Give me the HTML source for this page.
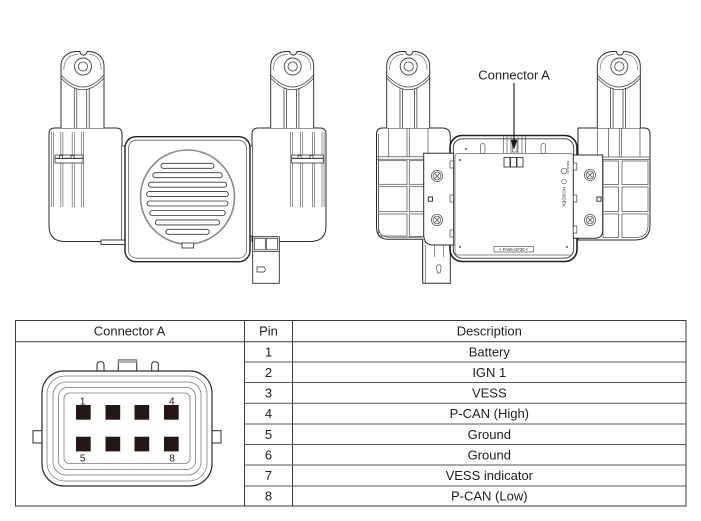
<!DOCTYPE html>
<html><head><meta charset="utf-8"><style>
html,body{margin:0;padding:0;background:#fff;width:701px;height:521px;overflow:hidden;}
svg{display:block;}
text{font-family:"Liberation Sans",Arial,sans-serif;fill:#1e1e1e;}
</style></head><body>
<svg width="701" height="521" viewBox="0 0 701 521" xmlns="http://www.w3.org/2000/svg">
<rect x="0" y="0" width="701" height="521" fill="#fff"/>

<!-- ================= LEFT DEVICE ================= -->
<g stroke="#2a2a2a" stroke-width="1" fill="#fff">
  <path d="M49,134 Q49,128 55,128 H116 Q122,128 122,134 V241.5 H65 Q49,241.5 49,225.5 Z"/>
  <path d="M252,134 Q252,128 258,128 H320 Q326,128 326,134 V226 Q326,241.5 310,241.5 H252 Z"/>
  <rect x="101" y="240" width="24" height="4.5" stroke-width="0.9"/>
  <rect x="121.7" y="146" width="3.3" height="94" stroke-width="0.7"/>
  <rect x="250" y="146" width="2.7" height="90" stroke-width="0.7"/>
</g>
<g stroke="#666" stroke-width="0.7" fill="none">
  <path d="M51.5,132 V207 M53.6,132 V207 M60.8,132 V207 M62.9,132 V207 M72.2,132 V207 M74.3,132 V207 M81.3,132 V207 M83.4,132 V207"/>
  <path d="M290.6,132 V207 M292.7,132 V207 M300.6,132 V207 M302.7,132 V207 M312.4,132 V207 M314.5,132 V207 M322,132 V207 M324.1,132 V207"/>
</g>
<g stroke="#333" stroke-width="0.8" fill="#fff">
  <rect x="55" y="155" width="28" height="3.2"/>
  <rect x="55" y="158.5" width="28" height="4.5"/>
  <rect x="59.5" y="155.5" width="3" height="3"/>
  <rect x="71" y="155.5" width="3" height="3"/>
  <rect x="291.7" y="155" width="31.6" height="3.2"/>
  <rect x="291.7" y="158.5" width="31.6" height="4.5"/>
  <rect x="298" y="155.5" width="3" height="3"/>
  <rect x="310" y="155.5" width="3" height="3"/>
</g>

<!-- arms left device -->
<g transform="translate(0,0)">
 <path d="M61,128 V66 C61,57 68,51.5 77,51.5 H80 A3.6,3.6 0 0 0 87.2,51.5 H88 C97,51.5 104,57 104,66 V128" fill="#fff" stroke="#2a2a2a" stroke-width="0.95"/>
 <path d="M63.8,70 C63.8,60 69,54.5 78,54.5 M89,54.5 C97,54.5 101.2,60 101.2,70" fill="none" stroke="#777" stroke-width="0.7"/>
 <circle cx="83" cy="66.5" r="8.5" fill="none" stroke="#444" stroke-width="0.9"/>
 <circle cx="83" cy="66.5" r="4.6" fill="none" stroke="#555" stroke-width="0.9"/>
 <path d="M61,75 Q83,99 104,75 M61,78 Q83,101.5 104,78" fill="none" stroke="#444" stroke-width="0.8"/>
 <path d="M74.3,88 V128 M76.8,89 V128 M86.7,89 V128 M89.2,88 V128" stroke="#444" stroke-width="0.8"/>
</g>
<g transform="translate(209.7,0)">
 <path d="M61,128 V66 C61,57 68,51.5 77,51.5 H80 A3.6,3.6 0 0 0 87.2,51.5 H88 C97,51.5 104,57 104,66 V128" fill="#fff" stroke="#2a2a2a" stroke-width="0.95"/>
 <path d="M63.8,70 C63.8,60 69,54.5 78,54.5 M89,54.5 C97,54.5 101.2,60 101.2,70" fill="none" stroke="#777" stroke-width="0.7"/>
 <circle cx="83" cy="66.5" r="8.5" fill="none" stroke="#444" stroke-width="0.9"/>
 <circle cx="83" cy="66.5" r="4.6" fill="none" stroke="#555" stroke-width="0.9"/>
 <path d="M61,75 Q83,99 104,75 M61,78 Q83,101.5 104,78" fill="none" stroke="#444" stroke-width="0.8"/>
 <path d="M74.3,88 V128 M76.8,89 V128 M86.7,89 V128 M89.2,88 V128" stroke="#444" stroke-width="0.8"/>
</g>

<!-- box -->
<rect x="125" y="136.7" width="125" height="125" rx="11" fill="#fff" stroke="#1e1e1e" stroke-width="1.4"/>
<rect x="128.5" y="140.2" width="118" height="118" rx="8" fill="none" stroke="#666" stroke-width="0.8"/>
<circle cx="187.5" cy="197" r="47" fill="none" stroke="#8a8a8a" stroke-width="1.6"/>
<g fill="#fff" stroke="#333" stroke-width="0.85">
  <rect x="160.9" y="163.3" width="53.2" height="5" rx="2.5"/>
  <rect x="152.8" y="172.7" width="69.4" height="5" rx="2.5"/>
  <rect x="148.4" y="182.2" width="78.2" height="5" rx="2.5"/>
  <rect x="146.6" y="191.6" width="81.8" height="5" rx="2.5"/>
  <rect x="147" y="201" width="81" height="5" rx="2.5"/>
  <rect x="149.8" y="210.5" width="75.4" height="5" rx="2.5"/>
  <rect x="155.3" y="219.9" width="64.4" height="5" rx="2.5"/>
  <rect x="165.8" y="229.3" width="43.4" height="5" rx="2.5"/>
  <rect x="182" y="243" width="11.5" height="5"/>
</g>
<!-- connector tail -->
<g fill="#fff" stroke="#2a2a2a" stroke-width="0.9">
  <rect x="252.7" y="236.7" width="26.6" height="46.6"/>
  <rect x="254.3" y="238.3" width="11" height="11.5" stroke-width="0.7"/>
  <rect x="266.5" y="238.3" width="11" height="11.5" stroke-width="0.7"/>
  <path d="M252.7,251.5 H279.3" stroke-width="0.7"/>
  <path d="M257,267 H262 A2.6,2.6 0 1 1 262,272 H257 Z" stroke-width="0.7"/>
</g>

<!-- ================= RIGHT DEVICE ================= -->
<g stroke="#2a2a2a" stroke-width="1" fill="#fff">
  <path d="M376.5,134 Q376.5,128 382.5,128 H442 Q450.3,128 450.3,136 V283.3 H422.7 V239.3 H389 Q376.5,239.3 376.5,227 Z"/>
  <path d="M578,128 H644 Q650,128 650,134 V225 Q650,240 635,240 H578 Z"/>
</g>
<g stroke="#555" stroke-width="0.75" fill="none">
  <path d="M378.6,134 V227 Q378.6,237.2 389,237.2 H422"/>
  <path d="M388.7,128 V156.7 M407,128 V156.7 M409.3,128 V156.7 M428,128 V153 M377,156.7 H425 M377,159.3 H425"/>
  <rect x="378.5" y="160.7" width="28.5" height="23.6"/>
  <rect x="378.5" y="186.7" width="28.5" height="25"/>
  <rect x="378.5" y="214" width="28.5" height="22"/>
  <rect x="409.3" y="160.7" width="15" height="23.6"/>
  <rect x="409.3" y="186.7" width="15" height="25"/>
  <rect x="409.3" y="214" width="15" height="22.5"/>
  <path d="M597.3,128 V157 M608.5,128 V157 M619.3,128 V157 M621.6,128 V157 M640,128 V157 M602.7,157 H650 M602.7,159.5 H650"/>
  <rect x="603" y="161" width="15.5" height="23.5"/>
  <rect x="603" y="187" width="15.5" height="24.5"/>
  <rect x="603" y="214" width="15.5" height="23.5"/>
  <rect x="622" y="161" width="26" height="23.5"/>
  <rect x="622" y="187" width="26" height="24.5"/>
  <path d="M622,214 H648 V225 Q648,237.5 636,237.5 H622 Z"/>
  <path d="M425.3,245 V283 M434.7,245 V257 M443.7,245 V257" stroke-width="0.7"/>
  <path d="M436.5,268 A2.4,2.4 0 1 1 441,268 L440,273 H437.5 Z" stroke-width="0.7"/>
</g>
<!-- arms right device -->
<g transform="translate(325.7,0)">
 <path d="M61,128 V66 C61,57 68,51.5 77,51.5 H80 A3.6,3.6 0 0 0 87.2,51.5 H88 C97,51.5 104,57 104,66 V128" fill="#fff" stroke="#2a2a2a" stroke-width="0.95"/>
 <path d="M63.8,70 C63.8,60 69,54.5 78,54.5 M89,54.5 C97,54.5 101.2,60 101.2,70" fill="none" stroke="#777" stroke-width="0.7"/>
 <circle cx="83" cy="66.5" r="8.5" fill="none" stroke="#444" stroke-width="0.9"/>
 <circle cx="83" cy="66.5" r="4.6" fill="none" stroke="#555" stroke-width="0.9"/>
 <path d="M61,75 Q83,99 104,75 M61,78 Q83,101.5 104,78" fill="none" stroke="#444" stroke-width="0.8"/>
 <path d="M74.3,88 V128 M76.8,89 V128 M88.7,89 V128 M91.2,88 V128" stroke="#444" stroke-width="0.8"/>
</g>
<g transform="translate(536.3,0)">
 <path d="M61,128 V66 C61,57 68,51.5 77,51.5 H80 A3.6,3.6 0 0 0 87.2,51.5 H88 C97,51.5 104,57 104,66 V128" fill="#fff" stroke="#2a2a2a" stroke-width="0.95"/>
 <path d="M63.8,70 C63.8,60 69,54.5 78,54.5 M89,54.5 C97,54.5 101.2,60 101.2,70" fill="none" stroke="#777" stroke-width="0.7"/>
 <circle cx="83" cy="66.5" r="8.5" fill="none" stroke="#444" stroke-width="0.9"/>
 <circle cx="83" cy="66.5" r="4.6" fill="none" stroke="#555" stroke-width="0.9"/>
 <path d="M61,75 Q83,99 104,75 M61,78 Q83,101.5 104,78" fill="none" stroke="#444" stroke-width="0.8"/>
 <path d="M74.3,88 V128 M76.8,89 V128 M86.7,89 V128 M89.2,88 V128" stroke="#444" stroke-width="0.8"/>
</g>

<!-- box right device -->
<rect x="450" y="135.5" width="127" height="126" rx="12" fill="#fff" stroke="#1e1e1e" stroke-width="1.6"/>
<rect x="453.3" y="138.8" width="120.4" height="119.4" rx="9" fill="none" stroke="#333" stroke-width="0.9"/>
<rect x="455" y="153.5" width="118.5" height="101.5" rx="3" fill="none" stroke="#666" stroke-width="0.7"/>
<g fill="#fff" stroke="#555" stroke-width="0.7">
  <rect x="480.4" y="143.5" width="4.6" height="10" rx="2.3"/>
  <rect x="541" y="143.5" width="4.6" height="10" rx="2.3"/>
  <circle cx="466" cy="149" r="0.8"/>
  <circle cx="460" cy="160" r="0.8"/>
  <circle cx="460" cy="247" r="0.8"/>
  <circle cx="567" cy="247" r="0.8"/>
  <path d="M503.5,136.5 V153 M507,136.5 V153 M511,136.5 V153 M518,136.5 V153 M522,136.5 V153 M525.5,136.5 V153"/>
  <rect x="512.5" y="140" width="4.5" height="12"/>
  <rect x="504" y="157.5" width="6" height="9.5" stroke="#222" stroke-width="0.8"/>
  <rect x="510.5" y="157.5" width="6" height="9.5" stroke="#222" stroke-width="0.8"/>
  <rect x="517" y="157.5" width="6" height="9.5" stroke="#222" stroke-width="0.8"/>
  <rect x="494" y="246.5" width="39.5" height="5.5"/>
  <circle cx="564" cy="171" r="2.8"/>
  <circle cx="564" cy="181.5" r="2.3"/>
</g>
<text x="513.7" y="250.8" font-size="4.2" text-anchor="middle" fill="#333">&gt; PA66-GF30 &lt;</text>
<text x="0" y="0" font-size="4.3" fill="#333" transform="translate(562.5,187) rotate(90)">HOSIDEN</text>
<text x="0" y="0" font-size="3" fill="#555" transform="translate(567,161) rotate(90)">MADE IN</text>

<!-- overlay panels -->
<g fill="#fff" stroke="#2a2a2a" stroke-width="1">
  <path d="M423.7,153.3 H453.7 V245 H433.7 Q423.7,245 423.7,235 Z"/>
  <path d="M573.3,155 H602.7 V230 Q602.7,238.3 594.7,238.3 H573.3 Z"/>
</g>
<g fill="#fff" stroke="#444" stroke-width="0.7">
  <rect x="450" y="161" width="3.5" height="7"/>
  <rect x="450" y="195" width="3.5" height="7"/>
  <rect x="450" y="230" width="3.5" height="7"/>
  <rect x="573.3" y="163" width="3.5" height="7"/>
  <rect x="573.3" y="195" width="3.5" height="7"/>
  <rect x="573.3" y="226" width="3.5" height="7"/>
  <rect x="428.3" y="197" width="4.2" height="4.2" stroke="#222" stroke-width="0.9"/>
  <rect x="596.9" y="197" width="4.2" height="4.2" stroke="#222" stroke-width="0.9"/>
</g>
<g fill="#fff" stroke="#555" stroke-width="0.75">
  <circle cx="437" cy="176" r="5.6"/><circle cx="437" cy="176" r="3.9"/>
  <path d="M434.3,173.3 L439.7,178.7 M439.7,173.3 L434.3,178.7"/>
  <circle cx="437" cy="220" r="5.6"/><circle cx="437" cy="220" r="3.9"/>
  <path d="M434.3,217.3 L439.7,222.7 M439.7,217.3 L434.3,222.7"/>
  <circle cx="590" cy="175" r="5.6"/><circle cx="590" cy="175" r="3.9"/>
  <path d="M587.3,172.3 L592.7,177.7 M592.7,172.3 L587.3,177.7"/>
  <circle cx="590" cy="220" r="5.6"/><circle cx="590" cy="220" r="3.9"/>
  <path d="M587.3,217.3 L592.7,222.7 M592.7,217.3 L587.3,222.7"/>
</g>

<!-- Connector A label and arrow -->
<text x="478.3" y="79.6" font-size="13">Connector A</text>
<path d="M514,83 V142" stroke="#1a1a1a" stroke-width="1.1"/>
<polygon points="510.8,140 517.2,140 514,150" fill="#1a1a1a"/>

<!-- ================= TABLE ================= -->
<g stroke="#3a3a3a" stroke-width="1" fill="none">
  <rect x="15.5" y="320.5" width="670.5" height="185.5"/>
  <path d="M244.5,320.5 V506 M292.5,320.5 V506 M15.5,341.7 H686"/>
  <path d="M244.5,362 H686 M244.5,382.5 H686 M244.5,403.2 H686 M244.5,424 H686 M244.5,444.5 H686 M244.5,465 H686 M244.5,486 H686" stroke="#555"/>
</g>
<g font-size="13" text-anchor="middle">
  <text x="129.5" y="335.5">Connector A</text>
  <text x="268.5" y="335.5">Pin</text>
  <text x="489.3" y="335.5">Description</text>
  <text x="268.5" y="356.5">1</text><text x="489.3" y="356.5">Battery</text>
  <text x="268.5" y="377">2</text><text x="489.3" y="377">IGN 1</text>
  <text x="268.5" y="397.5">3</text><text x="489.3" y="397.5">VESS</text>
  <text x="268.5" y="418.2">4</text><text x="489.3" y="418.2">P-CAN (High)</text>
  <text x="268.5" y="438.9">5</text><text x="489.3" y="438.9">Ground</text>
  <text x="268.5" y="459.4">6</text><text x="489.3" y="459.4">Ground</text>
  <text x="268.5" y="480.2">7</text><text x="489.3" y="480.2">VESS indicator</text>
  <text x="268.5" y="500.7">8</text><text x="489.3" y="500.7">P-CAN (Low)</text>
</g>

<!-- connector face drawing -->
<g stroke="#2a2a2a" stroke-width="1" fill="#fff">
  <rect x="33" y="430.7" width="10" height="12.3"/>
  <rect x="211" y="430.7" width="10" height="12.3"/>
  <path d="M97,372 V364.5 Q97,361.7 100.5,361.7 Q104,361.7 104,364.5 V372"/>
  <path d="M151.7,372 V364.5 Q151.7,361.7 155,361.7 Q158.3,361.7 158.3,364.5 V372"/>
  <rect x="118.3" y="360" width="18.4" height="12"/>
  <rect x="118.3" y="360" width="18.4" height="3" fill="#b0b0b0" stroke="none"/>
  <rect x="42" y="371" width="170" height="115" rx="22" stroke-width="1.2"/>
</g>
<g stroke="#777" stroke-width="0.75" fill="none">
  <rect x="47" y="376" width="160" height="105" rx="18"/>
  <rect x="53" y="382" width="148" height="93" rx="13"/>
  <rect x="58.5" y="387.5" width="137" height="82" rx="9"/>
  <rect x="64" y="393" width="126" height="70.5" rx="5"/>
</g>
<g fill="#231815">
  <rect x="76" y="405" width="14.7" height="14.7"/>
  <rect x="105.5" y="405" width="14.7" height="14.7"/>
  <rect x="134.5" y="405" width="14.7" height="14.7"/>
  <rect x="164" y="405" width="14.7" height="14.7"/>
  <rect x="76" y="436.7" width="14.7" height="14.7"/>
  <rect x="105.5" y="436.7" width="14.7" height="14.7"/>
  <rect x="134.5" y="436.7" width="14.7" height="14.7"/>
  <rect x="164" y="436.7" width="14.7" height="14.7"/>
</g>
<g font-size="10" text-anchor="middle">
  <text x="82.7" y="404.3">1</text>
  <text x="171.8" y="404.3">4</text>
  <text x="82.7" y="461.5">5</text>
  <text x="172.2" y="461.5">8</text>
</g>
</svg>
</body></html>
